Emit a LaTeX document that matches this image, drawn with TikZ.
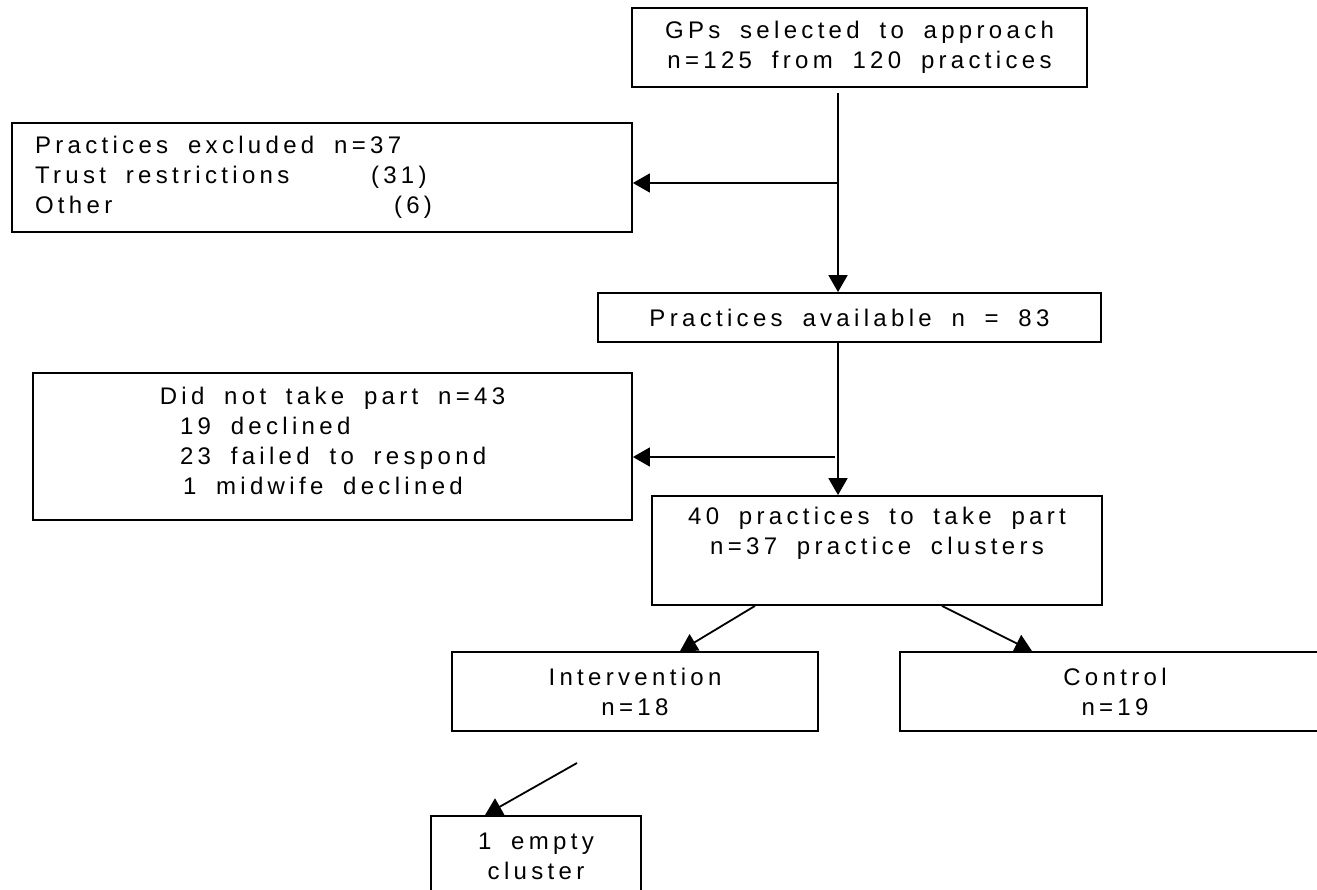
\documentclass[tikz,border=0pt]{standalone}
\usepackage{fontspec}
\newfontfamily\lsfont[LetterSpace=18,WordSpace=1.8]{Liberation Sans}
\usetikzlibrary{arrows.meta}
\begin{document}
\begin{tikzpicture}[x=1pt,y=-1pt,
  box/.style={draw, line width=1.8pt, rectangle, inner sep=0pt,
    font=\lsfont\fontsize{24}{30}\selectfont, align=center},
  arr/.style={line width=1.8pt, -{Triangle[length=17pt,width=19pt]}}]
\useasboundingbox (0,0) rectangle (1317,890);
\node[box, minimum width=455pt, minimum height=79pt] (top) at (859.5,47.5)
  {GPs selected to approach\\ n=125 from 120 practices};
\node[box, minimum width=620pt, minimum height=109pt, inner xsep=23pt,
  text width=574pt, align=flush left] (excl) at (322,177.5)
  {\spaceskip=0pt\xspaceskip=0pt\relax
   \mbox{Practices excluded n=37}\\
   \mbox{\makebox[336pt][l]{Trust restrictions}(31)}\\
   \mbox{\makebox[359pt][l]{Other}(6)}};
\node[box, minimum width=503pt, minimum height=49pt] (pa) at (849.5,317.5)
  {Practices available n = 83};
\node[box, minimum width=599pt, minimum height=147pt, inner xsep=147pt,
  text width=305pt, align=flush left] (dntp) at (332.5,446.5)
  {\spaceskip=0pt\xspaceskip=0pt\relax
   \makebox[305pt][c]{Did not take part n=43}\\
   \mbox{19 declined}\\
   \mbox{23 failed to respond}\\
   \mbox{\hspace*{3pt}1 midwife declined}\rule[-11pt]{0pt}{11pt}};
\node[box, minimum width=450pt, minimum height=109pt] (take) at (877,550.5)
  {40 practices to take part\\ n=37 practice clusters\\ \strut};
\node[box, minimum width=366pt, minimum height=79pt] (int) at (635,691.5)
  {Intervention\\ n=18};
\node[box, minimum width=430pt, minimum height=79pt] (ctrl) at (1115,691.5)
  {Control\\ n=19};
\node[box, minimum width=210pt, minimum height=80pt] (empty) at (536,856)
  {1 empty\\ cluster};
\coordinate (spine) at (838,0);
\coordinate (b1) at (838,183);
\coordinate (b2) at (835,457);
\coordinate (e0) at (577,763);
\draw[arr, shorten <=5pt] (top.south -| spine) -- (pa.north -| spine);
\draw[arr] (b1) -- (excl.east |- b1);
\draw[arr] (pa.south -| spine) -- (take.north -| spine);
\draw[arr] (b2) -- (dntp.east |- b2);
\draw[arr] ([xshift=-122pt]take.south) -- ([xshift=45pt]int.north);
\draw[arr] ([xshift=65pt]take.south) -- ([xshift=-83pt]ctrl.north);
\draw[arr] (e0) -- ([xshift=-51pt]empty.north);
\end{tikzpicture}
\end{document}
